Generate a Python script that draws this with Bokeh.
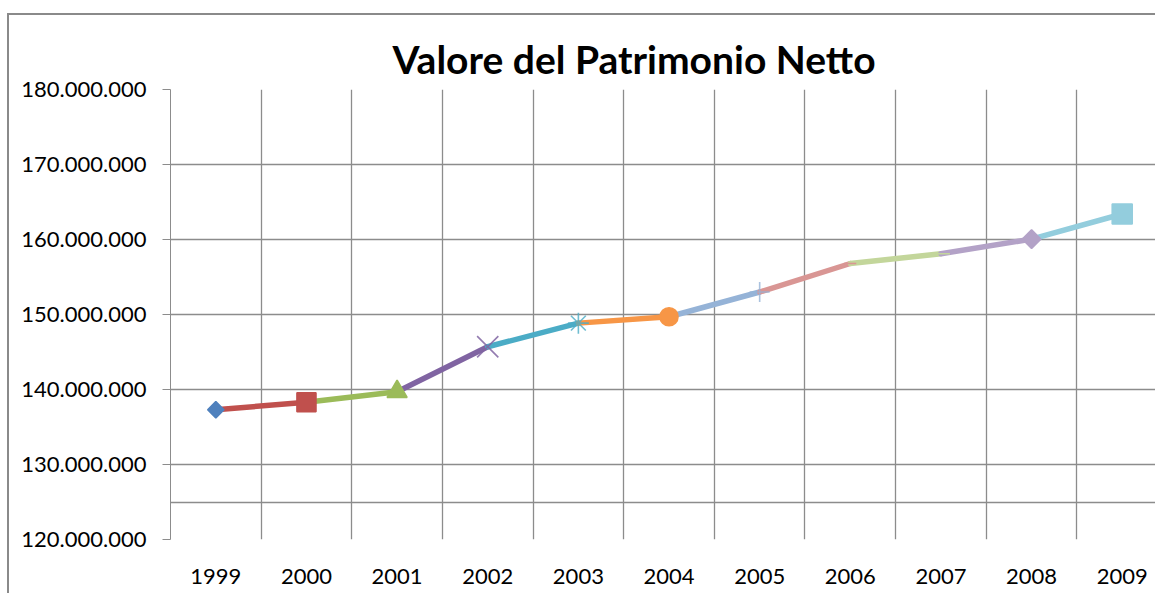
import math
from bokeh.plotting import figure
from bokeh.models import FixedTicker
from bokeh.embed import file_html
from bokeh.resources import INLINE

years = ["1999", "2000", "2001", "2002", "2003", "2004", "2005", "2006", "2007", "2008", "2009"]
values = [137.3e6, 138.3e6, 139.7e6, 145.7e6, 148.85e6, 149.7e6, 153.0e6, 156.8e6, 158.1e6, 160.05e6, 163.4e6]
colors = ["#4F81BD", "#C0504D", "#9BBB59", "#8064A2", "#4BACC6", "#F79646",
          "#95B3D7", "#D99694", "#C3D69B", "#B3A2C7", "#93CDDD"]
y_ticks = [120e6, 130e6, 140e6, 150e6, 160e6, 170e6, 180e6]
y_grid = y_ticks + [125e6]

# marker styling per point (Excel "vary colours by point")
markers = ["square", "square", "triangle", "x", "asterisk", "circle",
           "cross", "dash", "dash", "square", "square"]
sizes = [11.5, 19, 20, 30, 21, 18, 20, 12, 18, 13, 20]
angles = [math.pi / 4, 0, 0, 0, 0, 0, 0, 0, 0, math.pi / 4, 0]
line_alpha = [1, 1, 1, 0.85, 0.8, 1, 0.8, 1, 1, 1, 1]

idx = list(range(len(years)))

W, H = 1148, 580
left, top, bottom = 161, 74, 56
frame_w = W - left
unit_px = 90.64
x_end = -0.5 + frame_w / unit_px

p = figure(width=W, height=H, output_backend="svg", toolbar_location=None,
           x_range=(-0.5, x_end), y_range=(120e6, 180e6),
           min_border_left=left, min_border_top=top, min_border_bottom=bottom,
           min_border_right=0)
p.styles = {"border-left": "2px solid #8a8a8a", "border-top": "2px solid #8a8a8a",
            "margin-left": "7px", "margin-top": "13px"}
p.outline_line_color = None
p.background_fill_color = "white"
p.border_fill_color = "white"

p.title.text = "Valore del Patrimonio Netto"
p.title.text_font = "Lato"
p.title.text_font_size = "39px"
p.title.text_font_style = "bold"
p.title.text_color = "#000000"
p.title.align = "left"
p.title.offset = 222
p.title.standoff = 15

# grids
p.xgrid.ticker = FixedTicker(ticks=[i - 0.5 for i in idx])
p.xgrid.grid_line_color = "#8c8c8c"
p.xgrid.grid_line_width = 1.3
p.ygrid.ticker = FixedTicker(ticks=y_grid)
p.ygrid.grid_line_color = "#8c8c8c"
p.ygrid.grid_line_width = 1.3

# axes
p.xaxis.ticker = FixedTicker(ticks=idx)
p.xaxis.major_label_overrides = {i: y for i, y in zip(idx, years)}
p.xaxis.axis_line_color = None
p.xaxis.major_tick_line_color = None
p.xaxis.minor_tick_line_color = None
p.xaxis.major_label_standoff = 23
p.xaxis.major_label_text_font = "Lato"
p.xaxis.major_label_text_font_size = "22px"
p.xaxis.major_label_text_color = "#000000"

p.yaxis.ticker = FixedTicker(ticks=y_ticks)
p.yaxis.major_label_overrides = {v: f"{int(v):,}".replace(",", ".") for v in y_ticks}
p.yaxis.axis_line_color = "#8c8c8c"
p.yaxis.major_tick_line_color = "#8c8c8c"
p.yaxis.major_tick_in = 0
p.yaxis.major_tick_out = 8
p.yaxis.minor_tick_line_color = None
p.yaxis.major_label_standoff = 16
p.yaxis.major_label_text_font = "Lato"
p.yaxis.major_label_text_font_size = "22px"
p.yaxis.major_label_text_color = "#000000"

# segments coloured by the end point
p.segment(x0=idx[:-1], y0=values[:-1], x1=idx[1:], y1=values[1:],
          line_color=colors[1:], line_width=5.5, line_cap="round")

p.scatter(x=idx, y=values, marker=markers, size=sizes, angle=angles,
          fill_color=colors, line_color=colors, line_alpha=line_alpha, line_width=1.6)

open("out.html", "w").write(file_html(p, INLINE))
